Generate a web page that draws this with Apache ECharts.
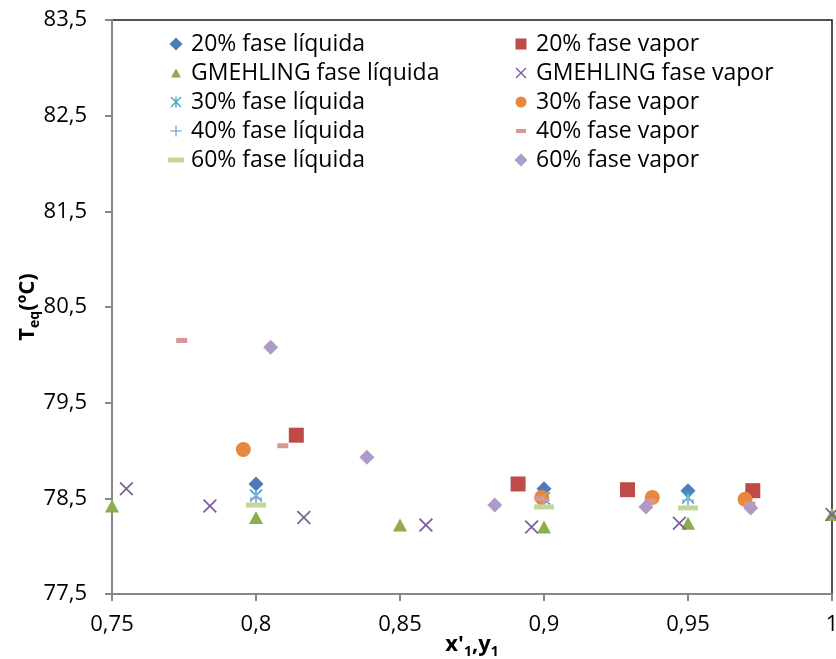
<!DOCTYPE html>
<html>
<head>
<meta charset="utf-8">
<script src="https://cdn.jsdelivr.net/npm/echarts@6/dist/echarts.min.js"></script>
<style>
  html, body { margin: 0; padding: 0; background: #fff; }
  #chart { width: 836px; height: 659px; }
</style>
</head>
<body>
<div id="chart"></div>
<script>
// Equilibrium temperature against liquid / vapour composition
const xTicks = [0.75, 0.8, 0.85, 0.9, 0.95, 1];
const yTicks = [77.5, 78.5, 79.5, 80.5, 81.5, 82.5, 83.5];

const liq20 = [[0.8, 78.65], [0.9, 78.6], [0.95, 78.58]];
const vap20 = [[0.814, 79.16], [0.891, 78.65], [0.929, 78.59], [0.9725, 78.58]];
const liqGmehling = [[0.75, 78.42], [0.8, 78.3], [0.85, 78.22], [0.9, 78.2], [0.95, 78.24], [1.0, 78.33]];
const vapGmehling = [[0.755, 78.6], [0.784, 78.42], [0.8166, 78.3], [0.859, 78.22], [0.8957, 78.2], [0.947, 78.24], [1.0, 78.33]];
const liq30 = [[0.8, 78.53], [0.9, 78.5], [0.95, 78.51]];
const vap30 = [[0.7956, 79.01], [0.8992, 78.51], [0.9376, 78.51], [0.9698, 78.49]];
const liq40 = [[0.8, 78.5], [0.9, 78.48], [0.95, 78.48]];
const vap40 = [[0.7742, 80.15], [0.8093, 79.05], [0.8986, 78.5], [0.9368, 78.47], [0.9715, 78.44]];
const liq60 = [[0.8, 78.43], [0.9, 78.41], [0.95, 78.4]];
const vap60 = [[0.8051, 80.08], [0.8385, 78.93], [0.8829, 78.43], [0.9354, 78.41], [0.9718, 78.4]];

const FONT = '"Open Sans"';

// marker outlines in a 100x100 box
const ringsX = [[[0, 9], [9, 0], [100, 91], [91, 100]], [[91, 0], [100, 9], [9, 100], [0, 91]]];
const ringsStar = ringsX.concat([[[44, 0], [56, 0], [56, 100], [44, 100]]]);
const ringsPlus = [[[43, 0], [57, 0], [57, 100], [43, 100]], [[0, 43], [100, 43], [100, 57], [0, 57]]];
const ringsDiamond = [[[50, 0], [100, 50], [50, 100], [0, 50]]];
const ringsSquare = [[[0, 0], [100, 0], [100, 100], [0, 100]]];
const ringsTri = [[[50, 0], [100, 100], [0, 100]]];

function ringsToPath(rings, ox, oy, w, h) {
  return rings.map(r => r.map((p, i) =>
    (i ? 'L' : 'M') + (ox + p[0] * w / 100).toFixed(2) + ',' + (oy + p[1] * h / 100).toFixed(2)
  ).join('') + 'Z').join('');
}
function symbolPath(rings) { return 'path://' + ringsToPath(rings, 0, 0, 100, 100); }

// legend icons drawn in a fixed 20x14 frame (corner anchors keep the scale)
const FRAME = 'M0,0L0.01,0M20,14L19.99,14';
function legendIcon(rings, w, h) {
  return 'path://' + FRAME + ringsToPath(rings, 10 - w / 2, 7 - h / 2, w, h);
}
const legendCircle = 'path://' + FRAME + 'M4.5,7A5.5,5.5 0 1,0 15.5,7A5.5,5.5 0 1,0 4.5,7Z';

const seriesDefs = [
  { name: '20% fase líquida', data: liq20, symbol: 'diamond', size: 15, color: '#4A7DBA', icon: legendIcon(ringsDiamond, 13, 13) },
  { name: '20% fase vapor', data: vap20, symbol: 'rect', size: 15, color: '#BE4B48', icon: legendIcon(ringsSquare, 11, 11) },
  { name: 'GMEHLING fase líquida', data: liqGmehling, symbol: 'triangle', size: [14, 13], color: '#8BAD4C', icon: legendIcon(ringsTri, 10, 9) },
  { name: 'GMEHLING fase vapor', data: vapGmehling, symbol: symbolPath(ringsX), size: 14, color: '#7D5FA0', icon: legendIcon(ringsX, 11, 11) },
  { name: '30% fase líquida', data: liq30, symbol: symbolPath(ringsStar), size: 13, color: '#46A6C0', icon: legendIcon(ringsStar, 11, 11) },
  { name: '30% fase vapor', data: vap30, symbol: 'circle', size: 15, color: '#E8883E', icon: legendCircle },
  { name: '40% fase líquida', data: liq40, symbol: symbolPath(ringsPlus), size: 12, color: '#93B1D6', icon: legendIcon(ringsPlus, 11, 11) },
  { name: '40% fase vapor', data: vap40, symbol: 'rect', size: [11, 5], color: '#D99694', icon: legendIcon(ringsSquare, 10, 4) },
  { name: '60% fase líquida', data: liq60, symbol: 'rect', size: [20, 5], color: '#C3D69B', icon: legendIcon(ringsSquare, 16, 5) },
  { name: '60% fase vapor', data: vap60, symbol: 'diamond', size: 15, color: '#AC9CC6', icon: legendIcon(ringsDiamond, 13, 13) }
];

const leftNames = [0, 2, 4, 6, 8].map(i => seriesDefs[i]);
const rightNames = [1, 3, 5, 7, 9].map(i => seriesDefs[i]);

function legendBlock(items, left) {
  return {
    orient: 'vertical',
    left: left,
    top: 32,
    padding: 0,
    itemWidth: 20,
    itemHeight: 14,
    itemGap: 5,
    symbolKeepAspect: true,
    selectedMode: false,
    textStyle: { fontFamily: FONT, fontSize: 23, lineHeight: 24, color: '#000' },
    data: items.map(d => ({ name: d.name, icon: d.icon }))
  };
}

const fmt = v => String(Math.round(v * 100) / 100).replace('.', ',');

const nameRich = {
  m: { fontFamily: FONT, fontSize: 22, fontWeight: 'bold', color: '#000', lineHeight: 28 },
  s: { fontFamily: FONT, fontSize: 14, fontWeight: 'bold', color: '#000', lineHeight: 14, verticalAlign: 'bottom' }
};

const option = {
  animation: false,
  backgroundColor: '#fff',
  textStyle: { fontFamily: FONT },
  grid: {
    left: 112, right: 4, top: 20, bottom: 65,
    outerBoundsMode: 'none',
    containLabel: false,
    show: true, borderColor: '#1a1a1a', borderWidth: 1.5, backgroundColor: 'transparent'
  },
  legend: [legendBlock(leftNames, 166), legendBlock(rightNames, 511)],
  xAxis: {
    type: 'value',
    min: 0.75, max: 1,
    name: "{m|x'}{s|1}{m|,y}{s|1}",
    nameLocation: 'middle',
    nameGap: 37,
    nameMoveOverlap: false,
    nameTextStyle: { rich: nameRich },
    axisLine: { onZero: false, lineStyle: { color: '#868686', width: 2 } },
    axisTick: { show: true, inside: false, length: 7, lineStyle: { color: '#868686', width: 2 }, customValues: xTicks },
    axisLabel: { customValues: xTicks, formatter: fmt, fontFamily: FONT, fontSize: 22, color: '#000', margin: 20 },
    splitLine: { show: false }
  },
  yAxis: {
    type: 'value',
    min: 77.5, max: 83.5,
    name: '{m|T}{s|eq}{m|(ºC)}',
    nameLocation: 'middle',
    nameGap: 70,
    nameMoveOverlap: false,
    nameTextStyle: { rich: nameRich },
    axisLine: { onZero: false, lineStyle: { color: '#868686', width: 2 } },
    axisTick: { show: true, inside: false, length: 7, lineStyle: { color: '#868686', width: 2 }, customValues: yTicks },
    axisLabel: { customValues: yTicks, formatter: v => v.toFixed(1).replace('.', ','), fontFamily: FONT, fontSize: 22, color: '#000', margin: 25 },
    splitLine: { show: false }
  },
  series: seriesDefs.map((d, i) => ({
    name: d.name,
    type: 'scatter',
    data: d.data,
    symbol: d.symbol,
    symbolSize: d.size,
    itemStyle: { color: d.color, opacity: 1 },
    emphasis: { disabled: true },
    z: 2 + i * 0.01
  }))
};

const chart = echarts.init(document.getElementById('chart'), null, { renderer: 'canvas' });
chart.setOption(option);
</script>
</body>
</html>
